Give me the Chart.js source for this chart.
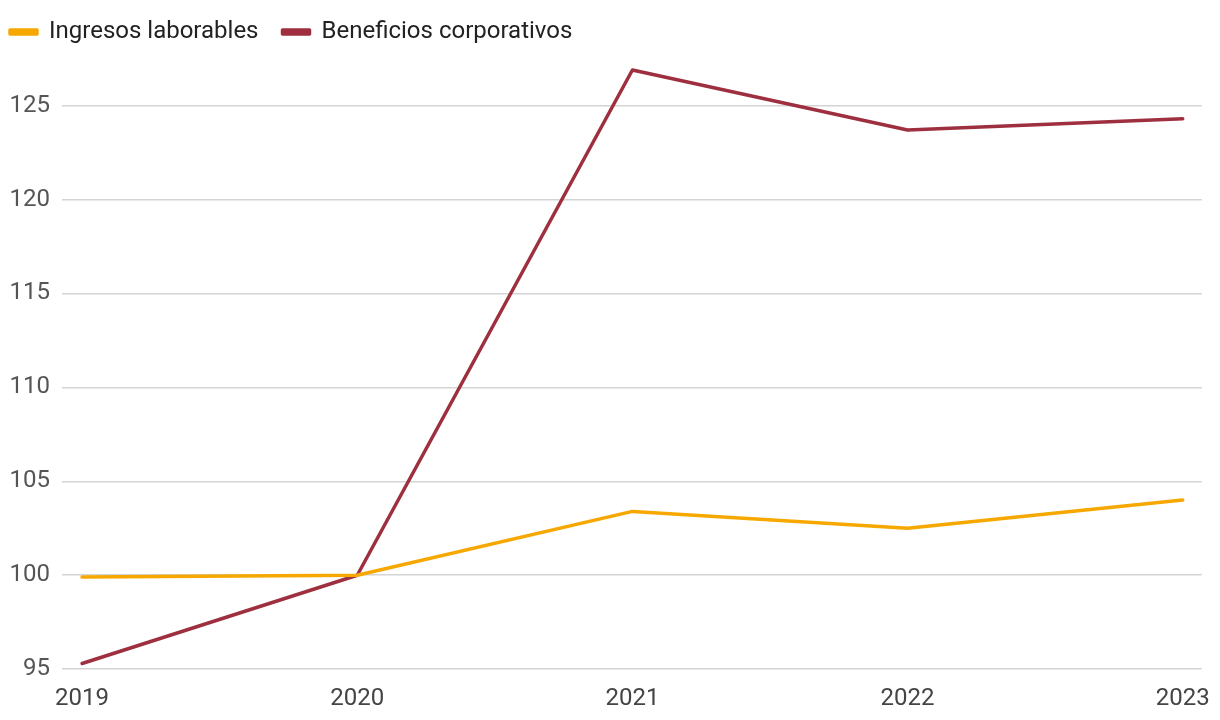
<!DOCTYPE html>
<html>
<head>
<meta charset="utf-8">
<script src="https://cdn.jsdelivr.net/npm/chart.js@4/dist/chart.umd.min.js"></script>
<style>
html,body{margin:0;padding:0;background:#fff;}
#wrap{width:1220px;height:720px;position:relative;}
</style>
</head>
<body>
<div id="wrap"><canvas id="c" width="1220" height="720"></canvas></div>
<script>
const years = [2019, 2020, 2021, 2022, 2023];
const ingresos = [99.9, 100, 103.4, 102.5, 104.0];
const beneficios = [95.3, 100, 126.9, 123.7, 124.3];
const yTicks = [95, 100, 105, 110, 115, 120, 125];
const seriesNames = ['Ingresos laborables', 'Beneficios corporativos'];

const toPts = arr => arr.map((v, i) => ({x: years[i], y: v}));
const PAD_LEFT = -14;

new Chart(document.getElementById('c'), {
  type: 'line',
  data: {
    datasets: [
      {label: seriesNames[0], data: toPts(ingresos), borderColor: '#F7A800', backgroundColor: '#F7A800',
       borderWidth: 3.5, pointRadius: 0, tension: 0, borderCapStyle: 'round', borderJoinStyle: 'round'},
      {label: seriesNames[1], data: toPts(beneficios), borderColor: '#9E2F3F', backgroundColor: '#9E2F3F',
       borderWidth: 3.5, pointRadius: 0, tension: 0, borderCapStyle: 'round', borderJoinStyle: 'round'}
    ]
  },
  options: {
    responsive: false,
    animation: false,
    layout: {padding: {left: PAD_LEFT, right: 18, top: -4, bottom: -9}},
    plugins: {
      legend: {
        position: 'top', align: 'start',
        labels: {
          font: {family: 'Roboto', size: 24},
          color: '#222',
          boxWidth: 27, boxHeight: 4, padding: 24
        }
      },
      tooltip: {enabled: false}
    },
    scales: {
      x: {
        type: 'linear',
        min: 2018.927, max: 2023.069,
        afterBuildTicks: s => { s.ticks = years.map(v => ({value: v})); },
        grid: {display: false, drawTicks: false},
        border: {display: false},
        ticks: {font: {family: 'Roboto', size: 24, lineHeight: 1.66}, color: '#444', padding: 10, maxRotation: 0,
                callback: v => String(v)}
      },
      y: {
        min: 95, max: 127.75,
        afterBuildTicks: s => { s.ticks = yTicks.map(v => ({value: v})); },
        afterFit: s => { s.width = 62 - PAD_LEFT; },
        grid: {color: '#d4d4d4', lineWidth: 1.5, drawTicks: false},
        border: {display: false},
        ticks: {font: {family: 'Roboto', size: 24}, color: '#555', padding: 12}
      }
    }
  }
});
</script>
</body>
</html>
